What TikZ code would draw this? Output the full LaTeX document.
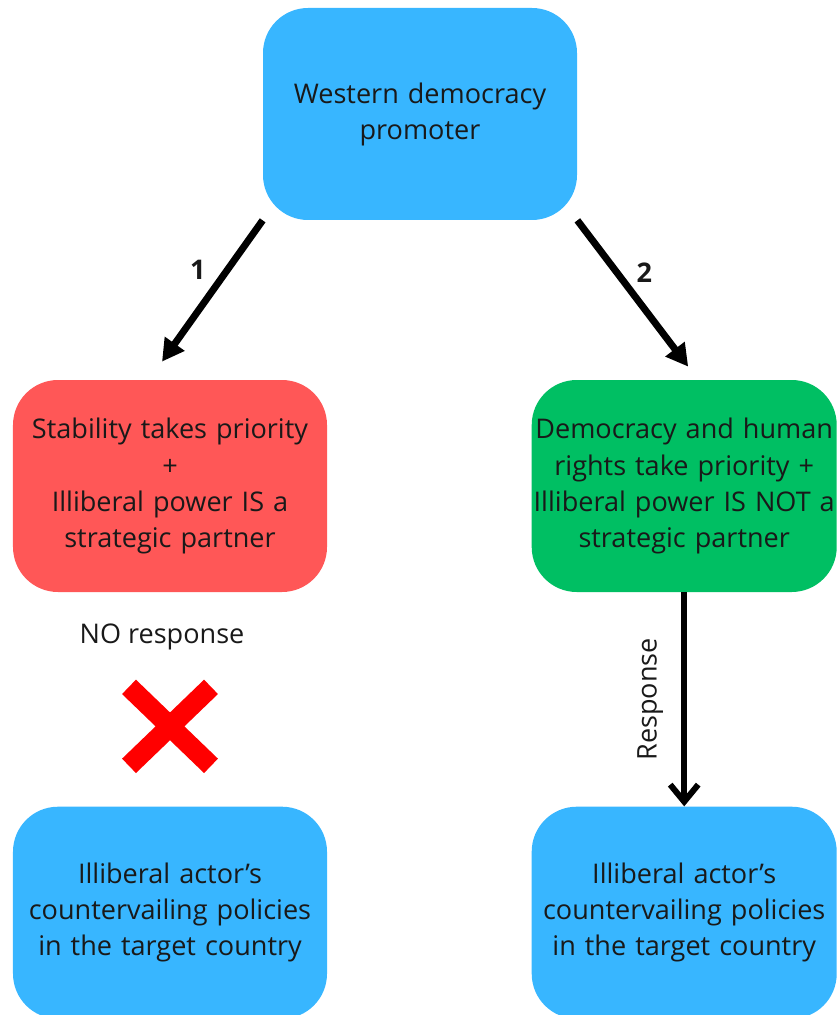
\documentclass[tikz,border=0pt]{standalone}
\usepackage{fontspec}
\setmainfont{Open Sans}
\usetikzlibrary{arrows.meta, positioning, calc}

\definecolor{promoblue}{HTML}{38B6FF}
\definecolor{stabred}{HTML}{FF5757}
\definecolor{rightsgreen}{HTML}{00BF63}
\definecolor{crossred}{HTML}{FF0000}

\begin{document}
\begin{tikzpicture}[
    node distance=4.28cm and 4.08cm,
    every node/.style={font=\fontsize{15.4}{20.5}\selectfont, text=black!90},
    box/.style={rectangle, rounded corners=0.9cm, align=center, text width=6.1cm, inner sep=0cm, minimum width=6.28cm, minimum height=4.24cm},
    arrow/.style={-{Triangle[length=0.44cm,width=0.46cm]}, line width=0.14cm},
    resparrow/.style={-{Straight Barb[length=0.34cm,width=0.56cm]}, line width=0.12cm},
    cross/.style={crossred, line width=0.4cm}
]
\useasboundingbox (0,0) rectangle (16.76,-20.3);
\clip (0,0) rectangle (16.76,-20.3);

% Nodes
\node[box, fill=promoblue] (promoter) at (8.4,-2.28) {Western democracy\\promoter};
\node[box, fill=stabred] (stability) at (3.4,-9.72) {Stability takes priority\\+\\Illiberal power IS a\\strategic partner};
\node[box, fill=rightsgreen, minimum width=6.1cm, right=of stability] (rights) {Democracy and human\\rights take priority +\\Illiberal power IS NOT a\\strategic partner};
\node[box, fill=promoblue, below=of stability] (policiesleft) {Illiberal actor’s\\countervailing policies\\in the target country};
\node[box, fill=promoblue, minimum width=6.1cm, below=of rights] (policiesright) {Illiberal actor’s\\countervailing policies\\in the target country};

% Arrows
\draw[arrow] (promoter.south west) -- node[pos=0.35, left=0.25cm] {\textbf{1}} ($(stability.north)+(-0.16,0.36)$);
\draw[arrow] (promoter.south east) -- node[pos=0.36, right=0.2cm] {\textbf{2}} ($(rights.north)+(0.08,0.26)$);
\draw[resparrow] (rights.south) -- node[midway, anchor=south, rotate=90, inner sep=0.36cm] {Response} (policiesright.north);

% No response
\node[below=0.5cm of stability, xshift=-0.16cm] (noresp) {NO response};
\coordinate[below=2.68cm of stability] (xmark);
\draw[cross] ($(xmark)+(-0.82,0.79)$) -- ($(xmark)+(0.82,-0.79)$);
\draw[cross] ($(xmark)+(-0.82,-0.79)$) -- ($(xmark)+(0.82,0.79)$);

\end{tikzpicture}
\end{document}
